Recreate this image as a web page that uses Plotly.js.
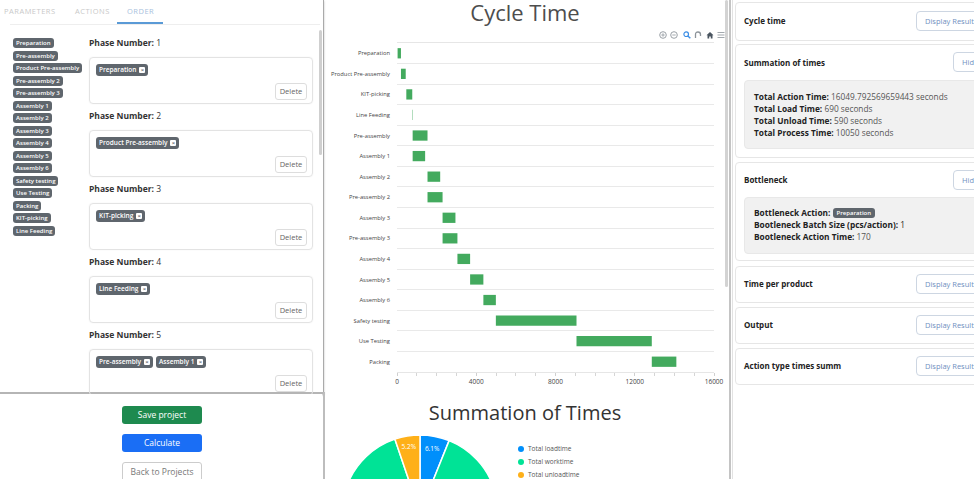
<!DOCTYPE html>
<html>
<head>
<meta charset="utf-8">
<script src="https://cdn.plot.ly/plotly-3.0.1.min.js"></script>
<style>
html,body{margin:0;padding:0;}
body{width:974px;height:479px;overflow:hidden;position:relative;background:#fff;font-family:'Open Sans','Noto Sans',sans-serif;color:#222;}
.a{position:absolute;}
.tab{position:absolute;top:5px;font-size:7.5px;letter-spacing:0.5px;color:#c9c9c9;line-height:12px;white-space:nowrap;}
.tag{position:absolute;left:13px;height:10px;line-height:10px;font-size:6px;font-weight:600;color:#fff;background:#5f666d;border-radius:3px;padding:0 3px;white-space:nowrap;}
.ph{position:absolute;left:89px;font-size:8.5px;line-height:12px;color:#333;white-space:nowrap;}
.ph b{font-weight:700;}
.box{position:absolute;left:89px;width:222px;height:45px;border:1px solid #e3e3e3;border-radius:4px;box-shadow:0 0 2px rgba(0,0,0,0.06);}
.ptag{display:inline-block;height:12px;line-height:12px;font-size:6.5px;font-weight:600;color:#fff;background:#5f666d;border-radius:3px;padding:0 3px;margin-right:3px;white-space:nowrap;vertical-align:top;}
.ptag i{display:inline-block;width:6px;height:6px;line-height:6px;background:#fff;color:#5f666d;font-style:normal;font-size:6px;text-align:center;margin-left:3px;border-radius:1px;vertical-align:0px;}
.tags{position:absolute;left:6px;top:6px;}
.del{position:absolute;left:185px;top:25px;width:30px;height:15px;line-height:15px;border:1px solid #ddd;border-radius:3px;font-size:7.5px;color:#666;text-align:center;background:#fff;}
.btn{position:absolute;left:122px;width:80px;height:18px;line-height:18px;border-radius:3px;font-size:8.5px;text-align:center;color:#fff;}
.card{position:absolute;left:735px;width:260px;border:1px solid #e6e6e6;border-radius:4px;background:#fff;}
.ct{position:absolute;left:8px;font-size:8px;font-weight:700;color:#222;line-height:12px;white-space:nowrap;}
.cb{position:absolute;height:18px;line-height:18px;border:1px solid #cdd6e2;border-radius:4px;font-size:7.5px;color:#6f8fc0;padding:0 8px;white-space:nowrap;background:#fff;}
.inner{position:absolute;left:8px;width:250px;background:#f1f1f1;border-radius:4px;border:1px solid #e8e8e8;}
.ln{position:absolute;left:9px;font-size:8.3px;line-height:12px;color:#555;white-space:nowrap;}
.ln b{color:#222;font-weight:700;}
.ic{position:absolute;top:31px;}
.lg{position:absolute;left:518px;font-size:6.5px;line-height:9px;color:#555;white-space:nowrap;}
.lg span{display:inline-block;width:6px;height:6px;border-radius:50%;margin-right:4px;vertical-align:-0.5px;}
</style>
</head>
<body>
<script>
// ---------- data ----------
const paletteItems = ['Preparation','Pre-assembly','Product Pre-assembly','Pre-assembly 2','Pre-assembly 3','Assembly 1','Assembly 2','Assembly 3','Assembly 4','Assembly 5','Assembly 6','Safety testing','Use Testing','Packing','KIT-picking','Line Feeding'];
const phaseNumbers = [1,2,3,4,5];
const phaseActions = [['Preparation'],['Product Pre-assembly'],['KIT-picking'],['Line Feeding'],['Pre-assembly','Assembly 1']];

const tasks = ['Preparation','Product Pre-assembly','KIT-picking','Line Feeding','Pre-assembly','Assembly 1','Assembly 2','Pre-assembly 2','Assembly 3','Pre-assembly 3','Assembly 4','Assembly 5','Assembly 6','Safety testing','Use Testing','Packing'];
const taskStart = [30, 200, 470, 780, 790, 790, 1540, 1540, 2300, 2300, 3050, 3690, 4360, 4990, 9060, 12860];
const taskEnd   = [200, 440, 770, 800, 1540, 1420, 2180, 2300, 2950, 3050, 3690, 4360, 4990, 9060, 12860, 14100];
const xTicks = [0, 4000, 8000, 12000, 16000];

const sumLabels = ['Total loadtime','Total worktime','Total unloadtime'];
const sumValues = [690, 10050, 590];
const sumColors = ['#008ffb','#00e396','#feb019'];

const totalActionTime = '16049.792569659443';
const totalLoad = 690, totalUnload = 590, totalProcess = 10050;
const bottleneckAction = 'Preparation', bottleneckBatch = 1, bottleneckTime = 170;
</script>

<!-- left panel frame -->
<div class="a" style="left:0;top:0;width:323px;height:392px;border-right:1px solid #aaa;border-bottom:2px solid #b5b5b5;box-shadow:0 1px 2px rgba(0,0,0,0.25);"></div>
<div class="a" style="left:323px;top:392px;width:2px;height:87px;background:#bdbdbd;"></div>
<div class="tab" style="left:4px;">PARAMETERS</div>
<div class="tab" style="left:75px;">ACTIONS</div>
<div class="tab" style="left:127px;color:#a9c1dd;">ORDER</div>
<div class="a" style="left:10px;top:24px;width:310px;height:1px;background:#eee;"></div>
<div class="a" style="left:117px;top:22px;width:46px;height:2px;background:#5a9ad6;"></div>
<div class="a" style="left:319px;top:30px;width:3px;height:125px;background:#cfcfcf;border-radius:2px;"></div>
<div id="left"></div>

<div class="btn" style="top:406px;background:#1e8a4f;">Save project</div>
<div class="btn" style="top:434px;background:#1a6ef5;">Calculate</div>
<div class="btn" style="top:462px;background:#fff;border:1px solid #ccc;color:#777;width:78px;">Back to Projects</div>

<!-- middle panel -->
<div class="a" style="left:729px;top:0;width:2px;height:479px;background:#c4c4c4;"></div>
<div class="a" style="left:725px;top:0;width:3px;height:287px;background:#d3d3d3;border-radius:2px;"></div>
<div id="gantt" class="a" style="left:325px;top:0;width:400px;height:395px;"></div>
<div id="pie" class="a" style="left:325px;top:395px;width:400px;height:240px;"></div>
<div id="legend"></div>

<!-- toolbar icons -->
<svg class="ic" style="left:659px" width="8" height="8" viewBox="0 0 8 8"><circle cx="4" cy="4" r="3.3" fill="none" stroke="#9aa0a6" stroke-width="1"/><path d="M2.3 4H5.7M4 2.3V5.7" stroke="#9aa0a6" stroke-width="0.9"/></svg>
<svg class="ic" style="left:670px" width="8" height="8" viewBox="0 0 8 8"><circle cx="4" cy="4" r="3.3" fill="none" stroke="#9aa0a6" stroke-width="1"/><path d="M2.3 4H5.7" stroke="#9aa0a6" stroke-width="0.9"/></svg>
<svg class="ic" style="left:683px" width="8" height="8" viewBox="0 0 8 8"><circle cx="3.2" cy="3.2" r="2.3" fill="none" stroke="#3b8ee6" stroke-width="1.2"/><path d="M4.9 4.9L7.3 7.3" stroke="#3b8ee6" stroke-width="1.4"/></svg>
<svg class="ic" style="left:694px" width="8" height="8" viewBox="0 0 8 8"><path d="M1.5 7V3.5Q1.5 1 4 1Q6.5 1 6.5 3.5V5" fill="none" stroke="#8d949a" stroke-width="1.3"/></svg>
<svg class="ic" style="left:706px" width="8" height="8" viewBox="0 0 8 8"><path d="M0.5 4.2L4 1L7.5 4.2H6.5V7.5H4.8V5.4H3.2V7.5H1.5V4.2Z" fill="#4a5560"/></svg>
<svg class="ic" style="left:717px" width="8" height="8" viewBox="0 0 8 8"><path d="M0.5 1.5H7.5M0.5 4H7.5M0.5 6.5H7.5" stroke="#a2a8ad" stroke-width="1.1"/></svg>

<!-- right panel -->
<div class="a" style="left:732px;top:0;width:1px;height:479px;background:#e2e2e2;"></div>
<div class="card" style="top:2px;height:37px;">
  <div class="ct" style="top:12px;">Cycle time</div>
  <div class="cb" style="left:180px;top:8px;">Display Result</div>
</div>
<div class="card" style="top:44px;height:112px;">
  <div class="ct" style="top:12px;">Summation of times</div>
  <div class="cb" style="left:217px;top:7px;">Hide</div>
  <div class="inner" style="top:35px;height:67px;">
    <div class="ln" style="top:10px;"><b>Total Action Time:</b> <span id="tat"></span> seconds</div>
    <div class="ln" style="top:22px;"><b>Total Load Time:</b> <span id="tlt"></span> seconds</div>
    <div class="ln" style="top:34px;"><b>Total Unload Time:</b> <span id="tut"></span> seconds</div>
    <div class="ln" style="top:46px;"><b>Total Process Time:</b> <span id="tpt"></span> seconds</div>
  </div>
</div>
<div class="card" style="top:162px;height:97px;">
  <div class="ct" style="top:11px;">Bottleneck</div>
  <div class="cb" style="left:217px;top:7px;">Hide</div>
  <div class="inner" style="top:34px;height:55px;">
    <div class="ln" style="top:9px;"><b>Bottleneck Action:</b> <span id="ba" style="display:inline-block;height:10px;line-height:10px;font-size:6px;font-weight:600;color:#fff;background:#5f666d;border-radius:3px;padding:0 4px;vertical-align:1px;"></span></div>
    <div class="ln" style="top:21px;"><b>Bootleneck Batch Size (pcs/action):</b> <span id="bb" style="color:#222"></span></div>
    <div class="ln" style="top:33px;"><b>Bootleneck Action Time:</b> <span id="bt"></span></div>
  </div>
</div>
<div class="card" style="top:266px;height:35px;">
  <div class="ct" style="top:11px;">Time per product</div>
  <div class="cb" style="left:180px;top:7px;">Display Result</div>
</div>
<div class="card" style="top:307px;height:35px;">
  <div class="ct" style="top:11px;">Output</div>
  <div class="cb" style="left:180px;top:7px;">Display Result</div>
</div>
<div class="card" style="top:348px;height:35px;">
  <div class="ct" style="top:11px;">Action type times summ</div>
  <div class="cb" style="left:180px;top:7px;">Display Result</div>
</div>

<script>
// left panel build
(function(){
  const left = document.getElementById('left');
  let html = '';
  paletteItems.forEach((t,i)=>{
    html += '<div class="tag" style="top:'+(38.3+i*12.5).toFixed(1)+'px">'+t+'</div>';
  });
  phaseNumbers.forEach((n,i)=>{
    const y0 = i*73;
    html += '<div class="ph" style="top:'+(37+y0)+'px"><b>Phase Number:</b> '+n+'</div>';
    html += '<div class="box" style="top:'+(57+y0)+'px"><div class="tags">'+
      phaseActions[i].map(a=>'<span class="ptag">'+a+'<i>×</i></span>').join('')+
      '</div><div class="del">Delete</div></div>';
  });
  left.innerHTML = html;
  const cov = document.createElement('div');
  cov.className='a';
  cov.style.cssText='left:0;top:394px;width:322px;height:85px;background:#fff;';
  document.body.insertBefore(cov, document.querySelector('.btn'));
  document.getElementById('tat').textContent = totalActionTime;
  document.getElementById('tlt').textContent = totalLoad;
  document.getElementById('tut').textContent = totalUnload;
  document.getElementById('tpt').textContent = totalProcess;
  document.getElementById('ba').textContent = bottleneckAction;
  document.getElementById('bb').textContent = bottleneckBatch;
  document.getElementById('bt').textContent = bottleneckTime;
  // legend for pie
  document.getElementById('legend').innerHTML = sumLabels.map((l,i)=>
    '<div class="lg" style="top:'+(444+i*13)+'px"><span style="background:'+sumColors[i]+'"></span>'+l+'</div>').join('');
})();

// gantt
const durations = taskEnd.map((e,i)=>e-taskStart[i]);
Plotly.newPlot('gantt', [{
  type:'bar', orientation:'h', y:tasks, x:durations, base:taskStart,
  marker:{color:'#43aa5e'}, width:0.5, hoverinfo:'none'
}], {
  width:400, height:395,
  margin:{l:72, r:11, t:43, b:23},
  paper_bgcolor:'rgba(0,0,0,0)', plot_bgcolor:'#fff',
  font:{family:'Open Sans, sans-serif', color:'#444'},
  title:{text:'Cycle Time', font:{size:22, color:'#4d4d4d', family:'Open Sans, sans-serif'}, x:0.5, xanchor:'center', y:1-13/395, yref:'container', yanchor:'middle'},
  showlegend:false,
  xaxis:{range:[0,16000], tickvals:xTicks, ticktext:xTicks.map(String), showgrid:false, zeroline:false,
    showline:true, mirror:true, linecolor:'#e6e6e6', linewidth:1,
    ticks:'outside', ticklen:3, tickcolor:'#cfcfcf', tickfont:{size:6.5, color:'#444'},
    minor:{dtick:1000, ticks:'outside', ticklen:3, tickcolor:'#d5d5d5', showgrid:false}},
  yaxis:{type:'category', autorange:'reversed', tickson:'boundaries', showgrid:true, gridcolor:'#e9e9e9', gridwidth:1,
    ticks:'', tickfont:{size:5.8, color:'#444'}, ticklabelstandoff:6, zeroline:false}
}, {displayModeBar:false, staticPlot:true});

// pie
Plotly.newPlot('pie', [{
  type:'pie', labels:sumLabels, values:sumValues, sort:false, direction:'clockwise', rotation:0,
  marker:{colors:sumColors, line:{color:'#fff', width:1.5}},
  texttemplate:'%{percent:.1%}', textposition:'inside', insidetextorientation:'horizontal',
  textfont:{size:6.5, color:'#fff', family:'Open Sans, sans-serif'},
  domain:{x:[17/400, 173/400], y:[44/240, 200/240]}, hoverinfo:'none'
}], {
  width:400, height:240, margin:{l:0,r:0,t:0,b:0},
  paper_bgcolor:'rgba(0,0,0,0)',
  title:{text:'Summation of Times', font:{size:20, color:'#333', family:'Open Sans, sans-serif'}, x:0.5, xanchor:'center', y:1-18/240, yref:'container', yanchor:'middle'},
  showlegend:false
}, {displayModeBar:false, staticPlot:true});
</script>
</body>
</html>
